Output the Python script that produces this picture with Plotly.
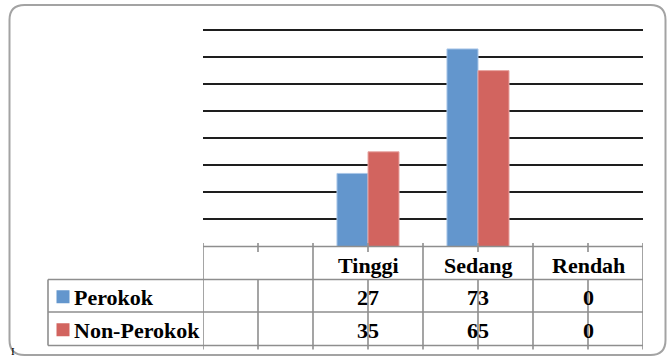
import plotly.graph_objects as go

# ---- data ----
categories = ["", "Tinggi", "Sedang", "Rendah"]
series_names = ["Perokok", "Non-Perokok"]
perokok = [None, 27, 73, 0]
non_perokok = [None, 35, 65, 0]
grid_vals = [10, 20, 30, 40, 50, 60, 70, 80]

colors = ["#6396CD", "#D2645F"]
outline = ["#A9C6E8", "#E8A6A3"]

W, H = 667, 359
def px(x): return x / W
def py(y): return 1 - y / H

AXIS_Y = 246.5
TOP_Y = 30.0
unit = (AXIS_Y - TOP_Y) / 80.0
ymax = 81.0
top_px = AXIS_Y - ymax * unit

fig = go.Figure()
idx = list(range(len(categories)))
for name, vals, c, oc in zip(series_names, [perokok, non_perokok], colors, outline):
    fig.add_trace(go.Bar(
        x=idx, y=vals, name=name,
        marker=dict(color=c,
                    line=dict(color=oc, width=[0 if (v is None or v == 0) else 1 for v in vals])),
        showlegend=False, hoverinfo="skip"))

fig.update_layout(
    width=W, height=H,
    margin=dict(l=0, r=0, t=0, b=0),
    paper_bgcolor="white", plot_bgcolor="white",
    font=dict(family="Liberation Serif", color="black"),
    barmode="group", bargap=0.436, bargroupgap=0,
    xaxis=dict(domain=[px(203), px(643)], range=[-0.5, len(categories) - 0.5],
               showgrid=False, showticklabels=False, zeroline=False,
               showline=False, ticks=""),
    yaxis=dict(domain=[py(AXIS_Y), py(top_px)], range=[0, ymax],
               tickvals=grid_vals, showticklabels=False, showgrid=True,
               gridcolor="#1e1e1e", gridwidth=2, zeroline=False, showline=False,
               ticks=""),
)

shapes = []
LINE = dict(color="#8e8e8e", width=1.6)
ROW1, ROW2, ROW3 = 279.5, 312.0, 345.5
# chart border (rounded rectangle)
L, T, R, B, r = 9.5, 5.0, 665.5, 355.0, 15.0
path = (f"M {px(L+r)},{py(T)} L {px(R-r)},{py(T)} Q {px(R)},{py(T)} {px(R)},{py(T+r)} "
        f"L {px(R)},{py(B-r)} Q {px(R)},{py(B)} {px(R-r)},{py(B)} "
        f"L {px(L+r)},{py(B)} Q {px(L)},{py(B)} {px(L)},{py(B-r)} "
        f"L {px(L)},{py(T+r)} Q {px(L)},{py(T)} {px(L+r)},{py(T)} Z")
shapes.append(dict(type="path", path=path, xref="paper", yref="paper",
                   line=dict(color="#a3a3a3", width=2), layer="below"))
# axis line (header top)
shapes.append(dict(type="line", xref="x", yref="paper", x0=-0.5, x1=len(categories) - 0.5,
                   y0=py(AXIS_Y), y1=py(AXIS_Y), line=LINE))
# row lines
for yy in [ROW1, ROW2, ROW3]:
    shapes.append(dict(type="line", xref="paper", yref="paper", x0=px(48), x1=px(643),
                       y0=py(yy), y1=py(yy), line=LINE))
# left border of legend column
shapes.append(dict(type="line", xref="paper", yref="paper", x0=px(48), x1=px(48),
                   y0=py(ROW1), y1=py(ROW3), line=LINE))
# category boundaries
for i in range(len(categories) + 1):
    shapes.append(dict(type="line", xref="x", yref="paper", x0=i - 0.5, x1=i - 0.5,
                       y0=py(243), y1=py(349.5), line=LINE))
# category centre ticks
for i in idx:
    shapes.append(dict(type="line", xref="x", yref="paper", x0=i, x1=i,
                       y0=py(243), y1=py(252), line=LINE))
    shapes.append(dict(type="line", xref="x", yref="paper", x0=i, x1=i,
                       y0=py(ROW1), y1=py(349.5), line=LINE))
# legend keys
for k, yy in enumerate([(ROW1 + ROW2) / 2, (ROW2 + ROW3) / 2]):
    shapes.append(dict(type="rect", xref="paper", yref="paper",
                       x0=px(56.5), x1=px(69.5), y0=py(yy + 7.5), y1=py(yy - 5.5),
                       fillcolor=colors[k], line=dict(width=0)))
fig.update_layout(shapes=shapes)

def font():
    return dict(family="Liberation Serif", size=22, weight="bold", color="black")

ann = []
for i, c in enumerate(categories):
    if c:
        ann.append(dict(x=i, y=py(265), xref="x", yref="paper", text=c, showarrow=False,
                        font=font(), xanchor="center", yanchor="middle"))
for k, (name, vals) in enumerate(zip(series_names, [perokok, non_perokok])):
    yy = [(ROW1 + ROW2) / 2, (ROW2 + ROW3) / 2][k] + 1.5
    ann.append(dict(x=px(72), y=py(yy), xref="paper", yref="paper", text=name,
                    showarrow=False, font=font(), xanchor="left", yanchor="middle"))
    for i, v in enumerate(vals):
        if v is not None:
            ann.append(dict(x=i, y=py(yy), xref="x", yref="paper", text=str(v),
                            showarrow=False, font=font(), xanchor="center", yanchor="middle"))
ann.append(dict(x=px(9), y=py(359), xref="paper", yref="paper", text="I",
                showarrow=False, font=dict(family="Liberation Serif", size=11, color="black"),
                xanchor="left", yanchor="bottom"))
fig.update_layout(annotations=ann)

fig.write_html("out.html")
